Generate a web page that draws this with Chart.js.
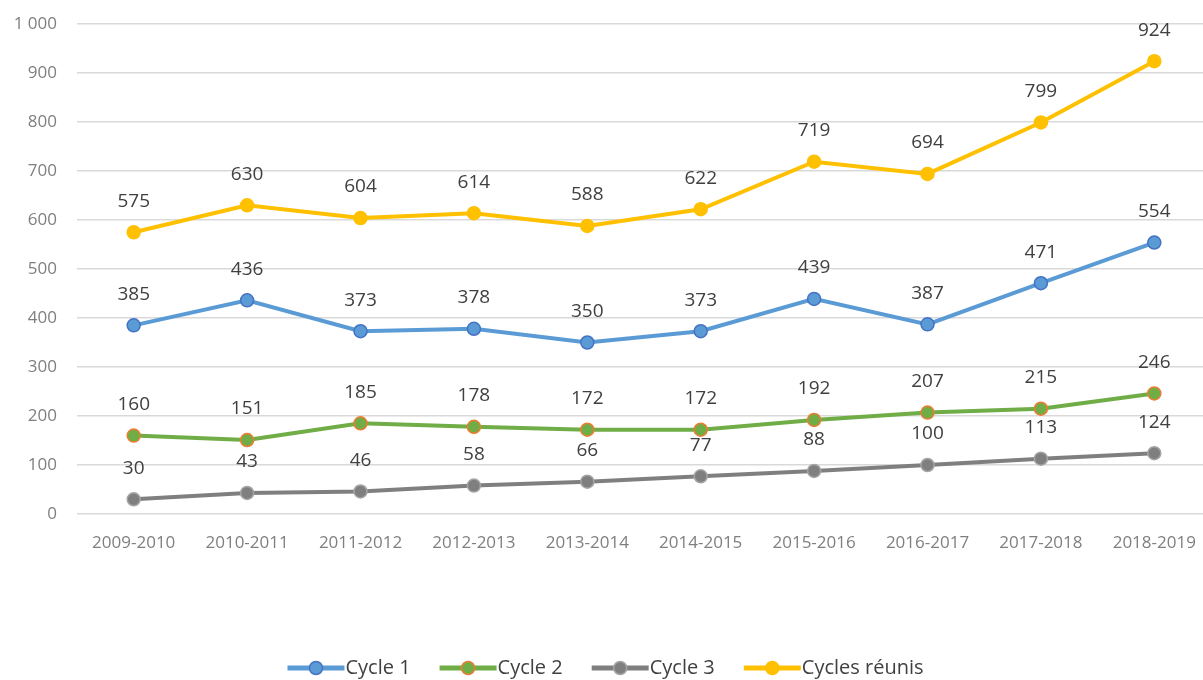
<!DOCTYPE html>
<html>
<head>
<meta charset="utf-8">
<script src="https://cdn.jsdelivr.net/npm/chart.js@4.4.1/dist/chart.umd.min.js"></script>
<style>
    html, body { margin: 0; padding: 0; background: #ffffff; overflow: hidden; }
    #wrap { width: 1203px; height: 680px; }
</style>
</head>
<body>
<div id="wrap"><canvas id="chart" width="1203" height="680"></canvas></div>
<script>
// Years (categories)
const years = ['2009-2010', '2010-2011', '2011-2012', '2012-2013', '2013-2014',
               '2014-2015', '2015-2016', '2016-2017', '2017-2018', '2018-2019'];

// Series values
const cycle1 = [385, 436, 373, 378, 350, 373, 439, 387, 471, 554];
const cycle2 = [160, 151, 185, 178, 172, 172, 192, 207, 215, 246];
const cycle3 = [30, 43, 46, 58, 66, 77, 88, 100, 113, 124];
const cyclesReunis = [575, 630, 604, 614, 588, 622, 719, 694, 799, 924];

// Y tick values
const yTicks = [0, 100, 200, 300, 400, 500, 600, 700, 800, 900, 1000];

const FONT = "'Open Sans', sans-serif";

// format like "1 000"
function fmt(v) {
    return String(v).replace(/\B(?=(\d{3})+(?!\d))/g, ' ');
}

// the original plot runs a little past the right edge of the picture
const stretchX = {
    id: 'stretchX',
    afterLayout(chart) {
        const x = chart.scales.x;
        x.right = 1211;
        x.width = x.right - x.left;
        x.configure();
        chart.chartArea.right = 1211;
        chart.chartArea.width = 1211 - chart.chartArea.left;
    }
};

// Draw value labels above each point
const valueLabels = {
    id: 'valueLabels',
    afterDatasetsDraw(chart) {
        const ctx = chart.ctx;
        ctx.save();
        ctx.font = '19px ' + FONT;
        ctx.fillStyle = '#404040';
        ctx.textAlign = 'center';
        ctx.textBaseline = 'middle';
        chart.data.datasets.forEach((ds, i) => {
            const meta = chart.getDatasetMeta(i);
            meta.data.forEach((pt, j) => {
                ctx.fillText(fmt(ds.data[j]), pt.x, pt.y - 31);
            });
        });
        ctx.restore();
    }
};

// Legend drawn at bottom, line with marker then text
const bottomLegend = {
    id: 'bottomLegend',
    afterDraw(chart) {
        const ctx = chart.ctx;
        const y = 668;
        const lineW = 57;
        const gap = 30;
        ctx.save();
        ctx.font = '20px ' + FONT;
        ctx.textBaseline = 'middle';
        const items = chart.data.datasets.map(ds => ({
            ds: ds,
            w: lineW + ctx.measureText(ds.label).width
        }));
        const total = items.reduce((s, it) => s + it.w, 0) + gap * (items.length - 1);
        let x = 605 - total / 2;
        items.forEach(it => {
            const ds = it.ds;
            ctx.strokeStyle = ds.borderColor;
            ctx.lineWidth = 5;
            ctx.beginPath();
            ctx.moveTo(x, y);
            ctx.lineTo(x + lineW, y);
            ctx.stroke();
            ctx.beginPath();
            ctx.arc(x + lineW / 2, y, 6.5, 0, Math.PI * 2);
            ctx.fillStyle = ds.pointBackgroundColor;
            ctx.fill();
            ctx.lineWidth = 1.5;
            ctx.strokeStyle = ds.pointBorderColor;
            ctx.stroke();
            ctx.fillStyle = '#404040';
            ctx.textAlign = 'left';
            ctx.fillText(ds.label, x + lineW + 1, y);
            x += it.w + gap;
        });
        ctx.restore();
    }
};

function series(label, data, line, fill, border) {
    return {
        label: label,
        data: data,
        borderColor: line,
        backgroundColor: line,
        borderWidth: 4,
        tension: 0,
        pointRadius: 6.5,
        pointBackgroundColor: fill,
        pointBorderColor: border,
        pointBorderWidth: 1.5
    };
}

new Chart(document.getElementById('chart').getContext('2d'), {
    type: 'line',
    data: {
        labels: years,
        datasets: [
            series('Cycle 1', cycle1, '#5b9bd5', '#5b9bd5', '#4472c4'),
            series('Cycle 2', cycle2, '#70ad47', '#70ad47', '#ed7d31'),
            series('Cycle 3', cycle3, '#7f7f7f', '#7f7f7f', '#a5a5a5'),
            series('Cycles réunis', cyclesReunis, '#ffc000', '#ffc000', '#ffc000')
        ]
    },
    options: {
        responsive: false,
        animation: false,
        layout: { padding: { top: 24, right: 0, bottom: 126, left: 0 } },
        plugins: {
            legend: { display: false },
            tooltip: { enabled: false }
        },
        scales: {
            x: {
                offset: true,
                grid: { display: false, drawTicks: false },
                border: { display: false },
                ticks: { color: '#7f7f7f', font: { family: FONT, size: 17 }, padding: 19, maxRotation: 0 },
                afterFit: (s) => { s.height = 40; }
            },
            y: {
                min: 0,
                max: 1000,
                afterBuildTicks: (s) => { s.ticks = yTicks.map(v => ({ value: v })); },
                grid: { color: '#d9d9d9', lineWidth: 1.5, drawTicks: false },
                border: { display: false },
                ticks: {
                    color: '#7f7f7f',
                    font: { family: FONT, size: 17 },
                    padding: 20,
                    callback: (v) => fmt(v)
                },
                afterFit: (s) => {
                    s.width = 77;
                    s.paddingTop = 0;
                    s.paddingBottom = 0;
                }
            }
        }
    },
    plugins: [stretchX, valueLabels, bottomLegend]
});
</script>
</body>
</html>
